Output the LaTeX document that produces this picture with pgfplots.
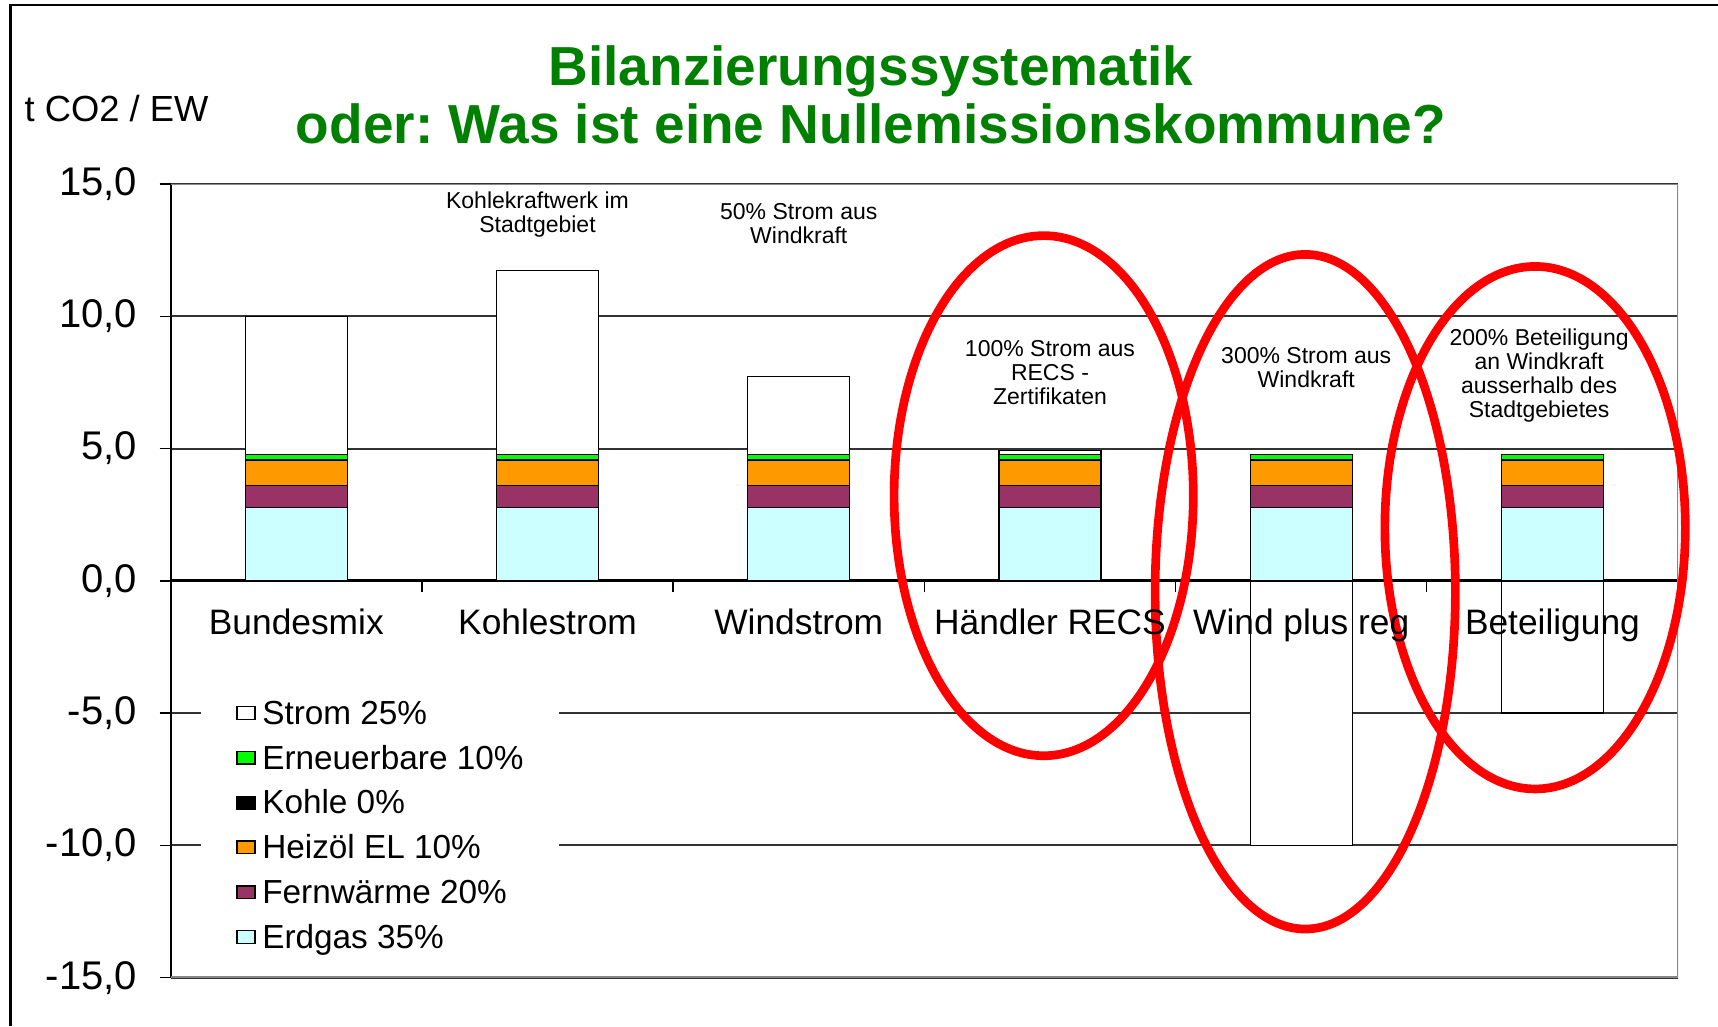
\documentclass[border=0pt]{standalone}
\usepackage{fontspec}
\setmainfont{Liberation Sans}
\usepackage{pgfplots}
\usepackage{pgfplotstable}
\pgfplotsset{compat=1.18}
\definecolor{erdgas}{HTML}{CCFFFF}
\definecolor{fernw}{HTML}{993366}
\definecolor{heiz}{HTML}{FF9900}
\definecolor{ern}{HTML}{00FF00}
\definecolor{titlegreen}{HTML}{008000}
\definecolor{gridc}{HTML}{333333}
\definecolor{borderc}{HTML}{888888}
\frenchspacing

\pgfplotstableread{
x erdgas fernw heiz kohle ern strom
0 2.78 0.82 0.97 0 0.20 5.23
1 2.78 0.82 0.97 0 0.20 6.97
2 2.78 0.82 0.97 0 0.20 2.95
3 2.78 0.82 0.97 0 0.20 0.15
4 2.78 0.82 0.97 0 0.20 0
5 2.78 0.82 0.97 0 0.20 0
}\stacked
\pgfplotstableread{
x strom
4 -10
5 -5
}\negstrom

\pgfplotsset{base/.style={scale only axis, width=452.2pt, height=238.1pt,
  at={(51.21pt,14.49pt)}, anchor=south west,
  xmin=-0.5, xmax=5.5, ymin=-15, ymax=15,
  xtick={-0.5,0.5,1.5,2.5,3.5,4.5,5.5}, x tick label as interval,
  hide obscured x ticks=false, hide obscured y ticks=false}}

\begin{document}
\begin{tikzpicture}
\useasboundingbox (0,0) rectangle (515.4pt,307.8pt);
\draw[line width=0.75pt] (3.15pt,0) -- (3.15pt,306.3pt) -- (515.4pt,306.3pt);
\node[anchor=base, font=\fontsize{16.5}{18}\selectfont\bfseries, text=titlegreen] at (261.3pt,282.0pt) {Bilanzierungssystematik};
\node[anchor=base, font=\fontsize{16.5}{18}\selectfont\bfseries, text=titlegreen] at (261.3pt,264.6pt) {oder: Was ist eine Nullemissionskommune?};
\node[anchor=base west, inner sep=0pt, font=\fontsize{10.9}{12}\selectfont] at (7.2pt,271.4pt) {t CO2 / EW};
\begin{axis}[base,
  ybar stacked, bar width=0.406,
  axis x line=middle, axis y line=left, axis line style={-},
  x axis line style={line width=0.9pt}, y axis line style={line width=0.6pt},
  xticklabels={,,,,,},
  ytick={-15,-10,-5,0,5,10,15},
  yticklabels={{-15,0},{-10,0},{-5,0},{0,0},{5,0},{10,0},{15,0}},
  tick align=outside, major tick length=3.3pt, tick style={black, line width=0.4pt},
  yticklabel style={font=\fontsize{12}{13}\selectfont, xshift=-3.3pt},
  ymajorgrids, grid style={gridc, line width=0.6pt},
  reverse legend, legend cell align=left,
  legend image code/.code={\draw[#1, line width=0.4pt] (0pt,-1.1pt) rectangle (5.4pt,2.7pt);},
  legend style={at={(rel axis cs:0.0194,0.361)}, anchor=north west, draw=none, fill=white,
    inner xsep=10.7pt, inner ysep=2.5pt, row sep=4.25pt,
    font=\fontsize{10}{11}\selectfont,
    nodes={inner sep=0pt, text height=7.2pt, text depth=2pt},
    /tikz/every odd column/.append style={column sep=2pt}},
]
\addplot[fill=erdgas, draw=black, line width=0.4pt] table[x=x,y=erdgas]{\stacked};
\addlegendentry{Erdgas 35\%}
\addplot[fill=fernw, draw=black, line width=0.4pt] table[x=x,y=fernw]{\stacked};
\addlegendentry{Fernwärme 20\%}
\addplot[fill=heiz, draw=black, line width=0.4pt] table[x=x,y=heiz]{\stacked};
\addlegendentry{Heizöl EL 10\%}
\addplot[fill=black, draw=black, line width=0.4pt] table[x=x,y=kohle]{\stacked};
\addlegendentry{Kohle 0\%}
\addplot[fill=ern, draw=black, line width=0.4pt] table[x=x,y=ern]{\stacked};
\addlegendentry{Erneuerbare 10\%}
\addplot[fill=white, draw=black, line width=0.4pt] table[x=x,y=strom]{\stacked};
\addlegendentry{Strom 25\%}
\draw[borderc, line width=0.8pt] (rel axis cs:0,0) -- (rel axis cs:1,0) -- (rel axis cs:1,1) -- (rel axis cs:0,1);
\end{axis}
\begin{axis}[base, ybar, bar width=0.406, clip=false, axis on top,
  axis x line=middle, axis y line=none, x axis line style={draw=none},
  major tick length=0pt, tick style={draw=none}, ytick=\empty,
  xticklabels={Bundesmix,Kohlestrom,Windstrom,Händler RECS,Wind plus reg,Beteiligung},
  xticklabel style={font=\fontsize{10.6}{12}\selectfont, yshift=-5pt},
]
\addplot[fill=white, draw=black, line width=0.4pt] table[x=x,y=strom]{\negstrom};
\begin{scope}[every node/.style={align=center, anchor=base, inner sep=0pt, font=\fontsize{6.9}{7.2}\selectfont}]
\node at (axis cs:0.96,13.18) {Kohlekraftwerk im\\Stadtgebiet};
\node at (axis cs:2.0,12.76) {50\% Strom aus\\Windkraft};
\node at (axis cs:3.0,6.68) {100\% Strom aus\\RECS -\\Zertifikaten};
\node at (axis cs:4.02,7.30) {300\% Strom aus\\Windkraft};
\node at (axis cs:4.947,6.19) {200\% Beteiligung\\an Windkraft\\ausserhalb des\\Stadtgebietes};
\end{scope}
\draw[red, line width=2.6pt] (axis cs:2.975,3.22) ellipse [x radius=0.5955, y radius=9.83];
\draw[red, line width=2.6pt] (axis cs:4.016,-0.41) ellipse [x radius=0.5976, y radius=12.75];
\draw[red, line width=2.6pt] (axis cs:4.931,2.01) ellipse [x radius=0.598, y radius=9.875];
\end{axis}
\end{tikzpicture}
\end{document}
